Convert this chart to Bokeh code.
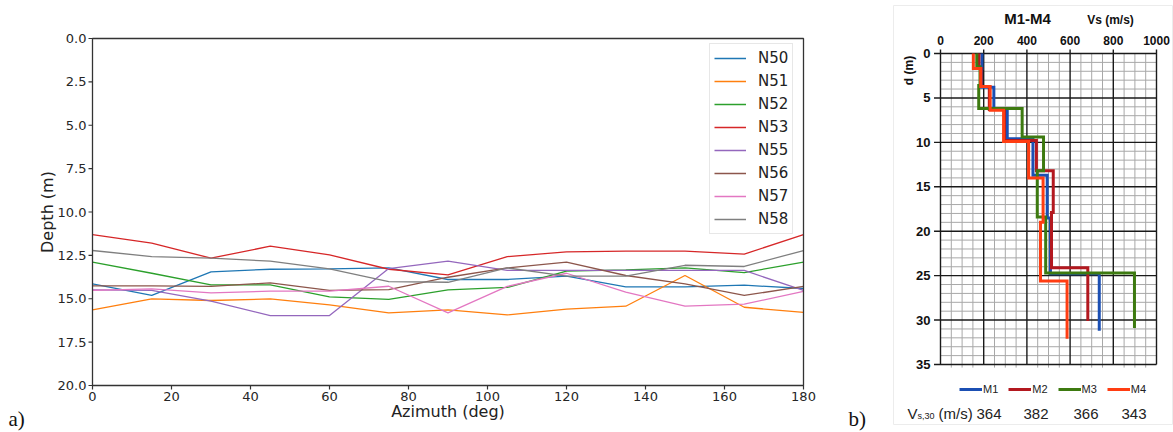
import math
from bokeh.plotting import figure
from bokeh.models import Range1d, Label, Legend, LegendItem
from bokeh.layouts import row
from bokeh.embed import file_html
from bokeh.resources import INLINE
from bokeh.core.properties import value

# ---------------- panel a data ----------------
azimuth = [0, 15, 30, 45, 60, 75, 90, 105, 120, 135, 150, 165, 180]
series_names = ["N50", "N51", "N52", "N53", "N55", "N56", "N57", "N58"]
N50 = [14.14, 14.81, 13.45, 13.30, 13.28, 13.22, 13.89, 13.89, 13.70, 14.31, 14.31, 14.22, 14.41]
N51 = [15.64, 15.01, 15.10, 15.01, 15.35, 15.81, 15.64, 15.93, 15.60, 15.43, 13.66, 15.49, 15.79]
N52 = [12.89, 13.53, 14.20, 14.20, 14.89, 15.04, 14.49, 14.35, 13.41, 13.33, 13.22, 13.49, 12.89]
N53 = [11.30, 11.80, 12.66, 11.97, 12.47, 13.30, 13.62, 12.57, 12.30, 12.26, 12.26, 12.43, 11.30]
N55 = [14.49, 14.52, 15.14, 15.97, 15.97, 13.26, 12.83, 13.37, 13.37, 13.37, 13.37, 13.37, 14.52]
N56 = [14.26, 14.26, 14.29, 14.08, 14.52, 14.47, 13.76, 13.22, 12.89, 13.66, 14.14, 14.81, 14.29]
N57 = [14.52, 14.43, 14.66, 14.56, 14.56, 14.28, 15.81, 14.29, 13.53, 14.62, 15.43, 15.31, 14.58]
N58 = [12.22, 12.57, 12.66, 12.83, 13.28, 14.01, 14.05, 13.22, 13.70, 13.70, 13.07, 13.14, 12.22]
x_ticks_a = [0, 20, 40, 60, 80, 100, 120, 140, 160, 180]
y_ticks_a = [0.0, 2.5, 5.0, 7.5, 10.0, 12.5, 15.0, 17.5, 20.0]

# ---------------- panel b data ----------------
profile_names = ["M1", "M2", "M3", "M4"]
M1_tops = [0, 1.7, 3.8, 6.2, 9.6, 13.7, 18.5, 24.8]
M1_vs = [192, 190, 247, 309, 428, 494, 509, 735]
M1_bottom = 31.2
M2_tops = [0, 1.7, 3.7, 6.3, 9.8, 13.2, 17.9, 24.1]
M2_vs = [178, 188, 226, 296, 444, 522, 514, 682]
M2_bottom = 30.1
M3_tops = [0, 1.5, 3.6, 6.2, 9.4, 13.2, 18.4, 24.7]
M3_vs = [168, 183, 177, 378, 477, 448, 487, 898]
M3_bottom = 30.9
M4_tops = [0, 1.7, 3.7, 6.4, 9.9, 14.0, 19.0, 25.6]
M4_vs = [152, 186, 230, 292, 408, 475, 463, 586]
M4_bottom = 32.1
vs30 = [364, 382, 366, 343]
vs_ticks_b = [0, 200, 400, 600, 800, 1000]
d_ticks_b = [0, 5, 10, 15, 20, 25, 30, 35]

H = 432
# ================= panel a =================
FONT_A = "DejaVu Sans"
colors_a = ["#1f77b4", "#ff7f0e", "#2ca02c", "#d62728", "#9467bd", "#8c564b", "#e377c2", "#7f7f7f"]
WA = 845
AX_L, AX_R, AX_T, AX_B = 92, 803, 38, 385       # pixel frame of the axes box
XA0, XA1 = x_ticks_a[0], x_ticks_a[-1]
YA0, YA1 = y_ticks_a[0], y_ticks_a[-1]
kxa = (AX_R - AX_L) / (XA1 - XA0)
kya = (AX_B - AX_T) / (YA1 - YA0)

pa = figure(width=WA, height=H,
            x_range=Range1d(XA0 - AX_L / kxa, XA0 + (WA - AX_L) / kxa),
            y_range=Range1d(YA0 + (H - AX_T) / kya, YA0 - AX_T / kya),
            output_backend="svg", toolbar_location=None,
            x_axis_location=None, y_axis_location=None, min_border=0)
pa.grid.visible = False
pa.outline_line_color = None

# series
rend_a = []
for name, ys, c in zip(series_names, [N50, N51, N52, N53, N55, N56, N57, N58], colors_a):
    rend_a.append(pa.line(azimuth, ys, color=c, line_width=1.3))

# axes box, ticks, labels
AXC = "#333333"
pa.quad(left=[XA0], right=[XA1], top=[YA0], bottom=[YA1], fill_color=None,
        line_color=AXC, line_width=1.3)
tick_len = 4
pa.segment(x0=x_ticks_a, x1=x_ticks_a, y0=[YA1] * len(x_ticks_a),
           y1=[YA1 + tick_len / kya] * len(x_ticks_a), line_color=AXC, line_width=1.2)
pa.segment(x0=[XA0] * len(y_ticks_a), x1=[XA0 - tick_len / kxa] * len(y_ticks_a),
           y0=y_ticks_a, y1=y_ticks_a, line_color=AXC, line_width=1.2)
pa.text(x=x_ticks_a, y=[YA1] * len(x_ticks_a), text=[str(t) for t in x_ticks_a],
        text_font=value(FONT_A), text_font_size="13px", text_color="#262626",
        text_align="center", text_baseline="top", y_offset=6)
pa.text(x=[XA0] * len(y_ticks_a), y=y_ticks_a, text=["%.1f" % t for t in y_ticks_a],
        text_font=value(FONT_A), text_font_size="13px", text_color="#262626",
        text_align="right", text_baseline="middle", x_offset=-6)
pa.add_layout(Label(x=(AX_L + AX_R) / 2, y=H - 411, x_units="screen", y_units="screen",
                    text="Azimuth (deg)", text_font=FONT_A, text_font_size="16px",
                    text_color="#222222", text_align="center", text_baseline="middle"))
pa.add_layout(Label(x=47, y=H - (AX_T + AX_B) / 2, x_units="screen", y_units="screen",
                    text="Depth (m)", text_font=FONT_A, text_font_size="16px", angle=math.pi / 2,
                    text_color="#222222", text_align="center", text_baseline="middle"))

lg = Legend(items=[LegendItem(label=n, renderers=[r]) for n, r in zip(series_names, rend_a)],
            location=(709, H - 234),
            label_text_font=FONT_A, label_text_font_size="15px", label_text_color="#222222",
            glyph_width=32, glyph_height=20, label_height=20, spacing=3, padding=4, margin=0,
            label_standoff=12, border_line_color="#d0d0d0", border_line_width=1,
            background_fill_alpha=0.85)
pa.add_layout(lg)

pa.add_layout(Label(x=8, y=H - 418, x_units="screen", y_units="screen", text="a)",
                    text_font="Liberation Serif", text_font_size="21px",
                    text_baseline="middle", text_color="#111111"))

# ================= panel b =================
FONT_B = "Liberation Sans"
B_LEFT = WA
WB = 1173 - B_LEFT
VS_PX0, VS_PX1 = 940, 1156      # pixel x of the grid's left/right edges
D_PY0, D_PY1 = 53, 364          # pixel y of the grid's top/bottom edges
vmax = vs_ticks_b[-1]
dmax = d_ticks_b[-1]
kx = (VS_PX1 - VS_PX0) / vmax
ky = (D_PY1 - D_PY0) / dmax


def vx(px):
    return (px - VS_PX0) / kx


def dy(py):
    return (py - D_PY0) / ky


def sx(px):
    return px - B_LEFT


def sy(py):
    return H - py


pb = figure(width=WB, height=H, x_range=Range1d(vx(B_LEFT), vx(1173)),
            y_range=Range1d(dy(H), dy(0)), output_backend="svg", toolbar_location=None,
            x_axis_location=None, y_axis_location=None, min_border=0)
pb.grid.visible = False
pb.outline_line_color = None

# faint image border
pb.quad(left=[vx(893)], right=[vx(1172)], top=[dy(5)], bottom=[dy(424)],
        fill_color=None, line_color="#ececec", line_width=1)

# grid
minor_v = [v for v in range(0, vmax + 1, 50) if v % 200 != 0]
minor_d = [d for d in range(0, dmax + 1) if d % 5 != 0]
pb.segment(x0=minor_v, x1=minor_v, y0=[0] * len(minor_v), y1=[dmax + 0.35] * len(minor_v),
           line_color="#a8a8a8", line_width=1)
pb.segment(x0=[0] * len(minor_d), x1=[vmax] * len(minor_d), y0=minor_d, y1=minor_d,
           line_color="#a8a8a8", line_width=1)
pb.segment(x0=vs_ticks_b, x1=vs_ticks_b, y0=[-0.45] * len(vs_ticks_b), y1=[dmax] * len(vs_ticks_b),
           line_color="#1a1a1a", line_width=1.4)
pb.segment(x0=[-30] * len(d_ticks_b), x1=[vmax] * len(d_ticks_b), y0=d_ticks_b, y1=d_ticks_b,
           line_color="#1a1a1a", line_width=1.4)

# tick labels
pb.text(x=vs_ticks_b, y=[0] * len(vs_ticks_b), text=[str(v) for v in vs_ticks_b],
        text_font=value(FONT_B), text_font_size="12px", text_font_style="bold",
        text_align="center", text_baseline="bottom", y_offset=-9, text_color="#111111")
pb.text(x=[0] * len(d_ticks_b), y=d_ticks_b, text=[str(d) for d in d_ticks_b],
        text_font=value(FONT_B), text_font_size="13px", text_font_style="bold",
        text_align="right", text_baseline="middle", x_offset=-10, text_color="#111111")

# profiles
colors_b = ["#1b4fb3", "#b3181f", "#3d7a10", "#ff3d12"]
renderers = []
for tops, vs, bot, c in zip([M1_tops, M2_tops, M3_tops, M4_tops],
                            [M1_vs, M2_vs, M3_vs, M4_vs],
                            [M1_bottom, M2_bottom, M3_bottom, M4_bottom], colors_b):
    xs, ys = [], []
    bottoms = tops[1:] + [bot]
    for t, b, v in zip(tops, bottoms, vs):
        xs += [v, v]
        ys += [t, b]
    r = pb.line(xs, ys, line_color=c, line_width=3, line_join="miter")
    renderers.append(r)

legend_b = Legend(items=[LegendItem(label=n, renderers=[r]) for n, r in zip(profile_names, renderers)],
                  orientation="horizontal", location=(sx(959), sy(395)),
                  glyph_width=23, glyph_height=12, label_height=12, label_width=15,
                  label_standoff=1, spacing=10, padding=0, margin=0,
                  label_text_font=FONT_B, label_text_font_size="11px", label_text_color="#222222",
                  border_line_color=None, background_fill_alpha=0)
pb.add_layout(legend_b)

# titles
pb.add_layout(Label(x=sx(1027), y=sy(18), x_units="screen", y_units="screen", text="M1-M4",
                    text_font=FONT_B, text_font_size="15px", text_font_style="bold",
                    text_align="center", text_baseline="middle", text_color="#111111"))
pb.add_layout(Label(x=sx(1110), y=sy(19), x_units="screen", y_units="screen", text="Vs (m/s)",
                    text_font=FONT_B, text_font_size="12px", text_font_style="bold",
                    text_align="center", text_baseline="middle", text_color="#111111"))
pb.add_layout(Label(x=sx(908), y=sy(70), x_units="screen", y_units="screen", text="d (m)",
                    text_font=FONT_B, text_font_size="12px", text_font_style="bold", angle=math.pi / 2,
                    text_align="center", text_baseline="middle", text_color="#111111"))

# Vs,30 row
base = sy(413)
pb.add_layout(Label(x=sx(907), y=base, x_units="screen", y_units="screen", text="V",
                    text_font=FONT_B, text_font_size="15px", text_baseline="alphabetic", text_color="#222222"))
pb.add_layout(Label(x=sx(917), y=base - 2, x_units="screen", y_units="screen", text="s,30",
                    text_font=FONT_B, text_font_size="9px", text_baseline="alphabetic", text_color="#222222"))
pb.add_layout(Label(x=sx(938), y=base, x_units="screen", y_units="screen", text="(m/s)",
                    text_font=FONT_B, text_font_size="15px", text_baseline="alphabetic", text_color="#222222"))
val_px = [988.5, 1035.5, 1085.5, 1133.5]
for v, px in zip(vs30, val_px):
    pb.add_layout(Label(x=sx(px), y=base, x_units="screen", y_units="screen", text=str(v),
                        text_font=FONT_B, text_font_size="15px", text_align="center",
                        text_baseline="alphabetic", text_color="#222222"))

pb.add_layout(Label(x=sx(848), y=sy(418), x_units="screen", y_units="screen", text="b)",
                    text_font="Liberation Serif", text_font_size="21px",
                    text_baseline="middle", text_color="#111111"))

layout = row(pa, pb)
open("out.html", "w").write(file_html(layout, INLINE))
